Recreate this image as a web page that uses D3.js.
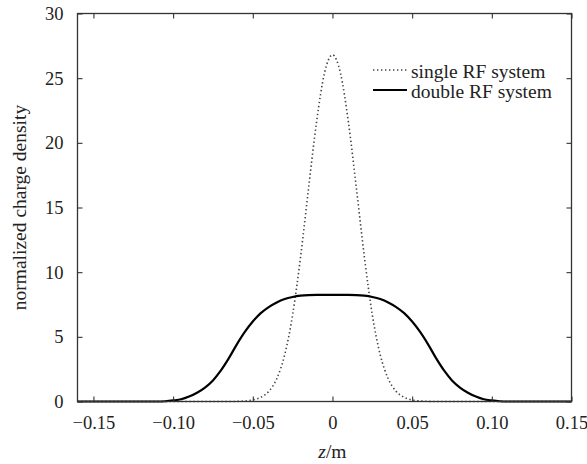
<!DOCTYPE html>
<html>
<head>
<meta charset="utf-8">
<script src="https://cdn.jsdelivr.net/npm/d3@7"></script>
<style>
  html, body { margin: 0; padding: 0; background: #fff; }
  svg { display: block; }
  text { font-family: "Liberation Serif", "Times New Roman", serif; fill: #222; }
</style>
</head>
<body>
<svg id="chart" width="587" height="464"></svg>
<script>
// ---- data ----
const xTicks = [-0.15, -0.10, -0.05, 0, 0.05, 0.10, 0.15];
const xTickLabels = ["\u22120.15", "\u22120.10", "\u22120.05", "0", "0.05", "0.10", "0.15"];
const yTicks = [0, 5, 10, 15, 20, 25, 30];
const yTickLabels = ["0", "5", "10", "15", "20", "25", "30"];

const zSingle = [-0.16, -0.065, -0.06, -0.055, -0.05, -0.045, -0.04, -0.035, -0.03, -0.025, -0.02, -0.015, -0.01, -0.005,
  0, 0.005, 0.01, 0.015, 0.02, 0.025, 0.03, 0.035, 0.04, 0.045, 0.05, 0.055, 0.06, 0.065, 0.15];
const singleRF = [0, 0, 0.01, 0.04, 0.12, 0.32, 0.78, 1.75, 3.6, 6.7, 11.2, 16.5, 21.6, 25.4,
  26.8, 25.4, 21.6, 16.5, 11.2, 6.7, 3.6, 1.75, 0.78, 0.32, 0.12, 0.04, 0.01, 0, 0];

const zDouble = [-0.16, -0.11, -0.105, -0.1, -0.095, -0.09, -0.085, -0.08, -0.075, -0.07, -0.065, -0.06, -0.055, -0.05,
  -0.045, -0.04, -0.035, -0.03, -0.025, -0.02, -0.015, -0.01, -0.005, 0, 0.005, 0.01, 0.015, 0.02, 0.025, 0.03, 0.035,
  0.04, 0.045, 0.05, 0.055, 0.06, 0.065, 0.07, 0.075, 0.08, 0.085, 0.09, 0.095, 0.1, 0.105, 0.11, 0.15];
const doubleRF = [0, 0, 0.02, 0.08, 0.17, 0.38, 0.68, 1.08, 1.63, 2.4, 3.35, 4.42, 5.38, 6.18,
  6.83, 7.3, 7.66, 7.92, 8.08, 8.18, 8.23, 8.25, 8.25, 8.25, 8.25, 8.25, 8.23, 8.18, 8.08, 7.92, 7.66,
  7.3, 6.83, 6.18, 5.38, 4.42, 3.35, 2.4, 1.63, 1.08, 0.68, 0.38, 0.17, 0.08, 0.02, 0, 0];

const seriesNames = ["single RF system", "double RF system"];

// ---- layout ----
const svg = d3.select("#chart");
const pLeft = 77.5, pRight = 571.5, pTop = 13.5, pBottom = 401.5;
const x = d3.scaleLinear().domain([-0.16, 0.15]).range([pLeft, pRight]);
const y = d3.scaleLinear().domain([0, 30]).range([pBottom, pTop]);
const fontSize = 19.5;
const tickFontSize = 18.5;
const axisColor = "#333";

// curves
const line = d3.line().x(d => x(d[0])).y(d => y(d[1])).curve(d3.curveMonotoneX);
const gPlot = svg.append("g");
gPlot.append("path")
  .datum(zSingle.map((z, i) => [z, singleRF[i]]))
  .attr("d", line)
  .attr("fill", "none")
  .attr("stroke", "#444")
  .attr("stroke-width", 1.6)
  .attr("stroke-dasharray", "1.4,2.6");
gPlot.append("path")
  .datum(zDouble.map((z, i) => [z, doubleRF[i]]))
  .attr("d", line)
  .attr("fill", "none")
  .attr("stroke", "#000")
  .attr("stroke-width", 2.2);

// axes (ticks inside) on all four sides
const tickLen = 5;
const xb = d3.axisBottom(x).tickValues(xTicks).tickSizeInner(-tickLen).tickSizeOuter(0)
  .tickFormat((d, i) => xTickLabels[i]).tickPadding(14);
const xt = d3.axisTop(x).tickValues(xTicks).tickSizeInner(-tickLen).tickSizeOuter(0).tickFormat("");
const yl = d3.axisLeft(y).tickValues(yTicks).tickSizeInner(-tickLen).tickSizeOuter(0)
  .tickFormat((d, i) => yTickLabels[i]).tickPadding(14);
const yr = d3.axisRight(y).tickValues(yTicks).tickSizeInner(-tickLen).tickSizeOuter(0).tickFormat("");

function style(g) {
  g.select(".domain").remove();
  g.selectAll("line").attr("stroke", axisColor).attr("stroke-width", 1.1);
  g.selectAll("text").attr("font-size", tickFontSize).attr("fill", "#222")
    .style("font-family", "'Liberation Serif', 'Times New Roman', serif");
}
svg.append("g").attr("transform", `translate(0,${pBottom})`).call(xb).call(style);
svg.append("g").attr("transform", `translate(0,${pTop})`).call(xt).call(style);
svg.append("g").attr("transform", `translate(${pLeft},0)`).call(yl).call(style);
svg.append("g").attr("transform", `translate(${pRight},0)`).call(yr).call(style);

// frame
svg.append("rect")
  .attr("x", pLeft).attr("y", pTop)
  .attr("width", pRight - pLeft).attr("height", pBottom - pTop)
  .attr("fill", "none").attr("stroke", axisColor).attr("stroke-width", 1.3);

// axis titles
const xl = svg.append("text")
  .attr("x", x(0)).attr("y", 458)
  .attr("text-anchor", "middle")
  .attr("font-size", fontSize);
xl.append("tspan").attr("font-style", "italic").text("z");
xl.append("tspan").text("/m");

svg.append("text")
  .attr("transform", `translate(26,${(pTop + pBottom) / 2}) rotate(-90)`)
  .attr("text-anchor", "middle")
  .attr("font-size", fontSize)
  .text("normalized charge density");

// legend
const legX1 = 373, legX2 = 407, legTextX = 411;
const legRows = [
  { name: seriesNames[0], yLine: 70, yText: 73.5, dash: "1.4,2.6", color: "#444", w: 1.6 },
  { name: seriesNames[1], yLine: 90, yText: 93.5, dash: null, color: "#000", w: 2.2 }
];
legRows.forEach(r => {
  const l = svg.append("line")
    .attr("x1", legX1).attr("x2", legX2).attr("y1", r.yLine).attr("y2", r.yLine)
    .attr("stroke", r.color).attr("stroke-width", r.w);
  if (r.dash) l.attr("stroke-dasharray", r.dash);
  svg.append("text")
    .attr("x", legTextX).attr("y", r.yText + 4)
    .attr("font-size", fontSize)
    .text(r.name);
});
</script>
</body>
</html>
